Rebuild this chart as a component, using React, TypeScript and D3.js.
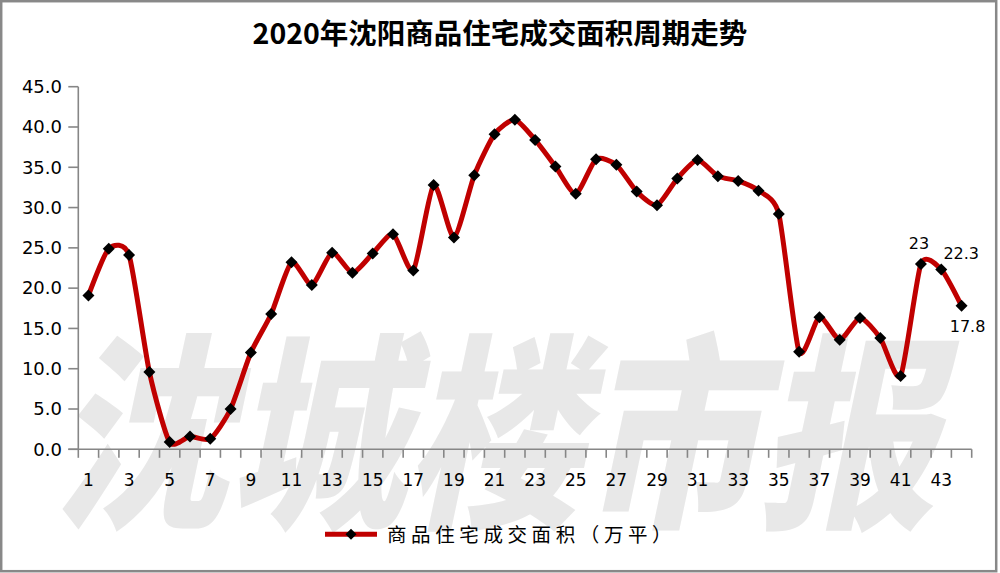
import React from "react";
import * as d3 from "d3";

const weeks: number[] = Array.from({ length: 44 }, (_, i) => i + 1);
const areaValues: number[] = [
  19.1, 24.9, 24.1, 9.6, 0.9, 1.6, 1.3, 5.0, 12.0, 16.8,
  23.2, 20.4, 24.4, 21.9, 24.3, 26.7, 22.2, 32.8, 26.3, 34.0,
  39.1, 40.9, 38.4, 35.1, 31.7, 36.0, 35.3, 32.0, 30.3, 33.6,
  35.9, 33.9, 33.3, 32.1, 29.2, 12.1, 16.4, 13.6, 16.3, 13.8,
  9.1, 23.0, 22.3, 17.8,
];
const yTicks: number[] = [0, 5, 10, 15, 20, 25, 30, 35, 40, 45];
const xTickLabels: number[] = weeks.filter((w) => w % 2 === 1);
const labeledPoints: { week: number; text: string; dx: number; dy: number }[] = [
  { week: 42, text: "23", dx: -2, dy: -15 },
  { week: 43, text: "22.3", dx: 20, dy: -11 },
  { week: 44, text: "17.8", dx: 6, dy: 26 },
];
const title = "2020年沈阳商品住宅成交面积周期走势";
const seriesName = "商品住宅成交面积（万平）";
const watermark = "沈城楼市报";

export default function App() {
  const W = 1000;
  const H = 573;
  const x = d3.scaleBand<number>().domain(weeks).range([78.3, 971.7]).padding(0);
  const y = d3.scaleLinear().domain([0, 45]).range([449.3, 86.7]);
  const cx = (w: number) => (x(w) as number) + x.bandwidth() / 2;
  const pts: [number, number][] = weeks.map((w, i) => [cx(w), y(areaValues[i])]);
  const line = d3.line().curve(d3.curveCardinal.tension(0.35))(pts) as string;
  const diamond = (s: number) => `M0,${-s}L${s},0L0,${s}L${-s},0Z`;
  const axisColor = "#868686";
  const numFont = "'DejaVu Sans', Verdana, sans-serif";
  const cjkFont = "'Noto Sans CJK SC', sans-serif";
  const boundaries = d3.range(weeks.length + 1).map((k) => 78.3 + k * x.bandwidth());

  return (
    <svg width={W} height={H} style={{ position: "absolute", left: 0, top: 0 }}>
      <rect x={0} y={0} width={W} height={H} fill="#fff" />
      <g transform="translate(52,512) scale(0.93,1.1) skewX(-14)">
        <text x={0} y={0} fontFamily={cjkFont} fontWeight={900} fontSize={190} fill="#e8e8e8">
          {watermark}
        </text>
      </g>
      <rect x={1.2} y={1.2} width={995} height={570} fill="none" stroke="#888" strokeWidth={2.5} />
      <text x={500} y={44} textAnchor="middle" fontFamily={cjkFont} fontWeight={700} fontSize={28.5} fill="#000">
        {title}
      </text>
      {/* y axis */}
      <line x1={78.3} x2={78.3} y1={y(45)} y2={y(0)} stroke={axisColor} strokeWidth={1.6} />
      {yTicks.map((t) => (
        <g key={t}>
          <line x1={68.3} x2={78.3} y1={y(t)} y2={y(t)} stroke={axisColor} strokeWidth={1.6} />
          <text x={62} y={y(t)} dy="0.35em" textAnchor="end" fontFamily={numFont} fontSize={18} fill="#000">
            {t.toFixed(1)}
          </text>
        </g>
      ))}
      {/* x axis */}
      <line x1={68.3} x2={971.7} y1={y(0)} y2={y(0)} stroke={axisColor} strokeWidth={1.6} />
      {boundaries.map((b, i) => (
        <line key={i} x1={b} x2={b} y1={y(0)} y2={y(0) + 8.5} stroke={axisColor} strokeWidth={1.6} />
      ))}
      {xTickLabels.map((w) => (
        <text key={w} x={cx(w)} y={486} textAnchor="middle" fontFamily={numFont} fontSize={17} fill="#000">
          {w}
        </text>
      ))}
      <path d={line} fill="none" stroke="#c00000" strokeWidth={5} strokeLinejoin="round" />
      {pts.map(([px, py], i) => (
        <path key={i} d={diamond(6)} transform={`translate(${px},${py})`} fill="#000" />
      ))}
      {labeledPoints.map((l) => {
        const i = weeks.indexOf(l.week);
        return (
          <text
            key={l.week}
            x={pts[i][0] + l.dx}
            y={pts[i][1] + l.dy}
            textAnchor="middle"
            fontFamily={numFont}
            fontSize={16}
            fill="#000"
          >
            {l.text}
          </text>
        );
      })}
      {/* legend */}
      <line x1={325} x2={377} y1={534.3} y2={534.3} stroke="#c00000" strokeWidth={5} />
      <path d={diamond(5.5)} transform="translate(351,534.3)" fill="#000" />
      <text x={387} y={541.5} fontFamily={cjkFont} fontSize={19.5} letterSpacing={4.6} fill="#000">
        {seriesName}
      </text>
    </svg>
  );
}
